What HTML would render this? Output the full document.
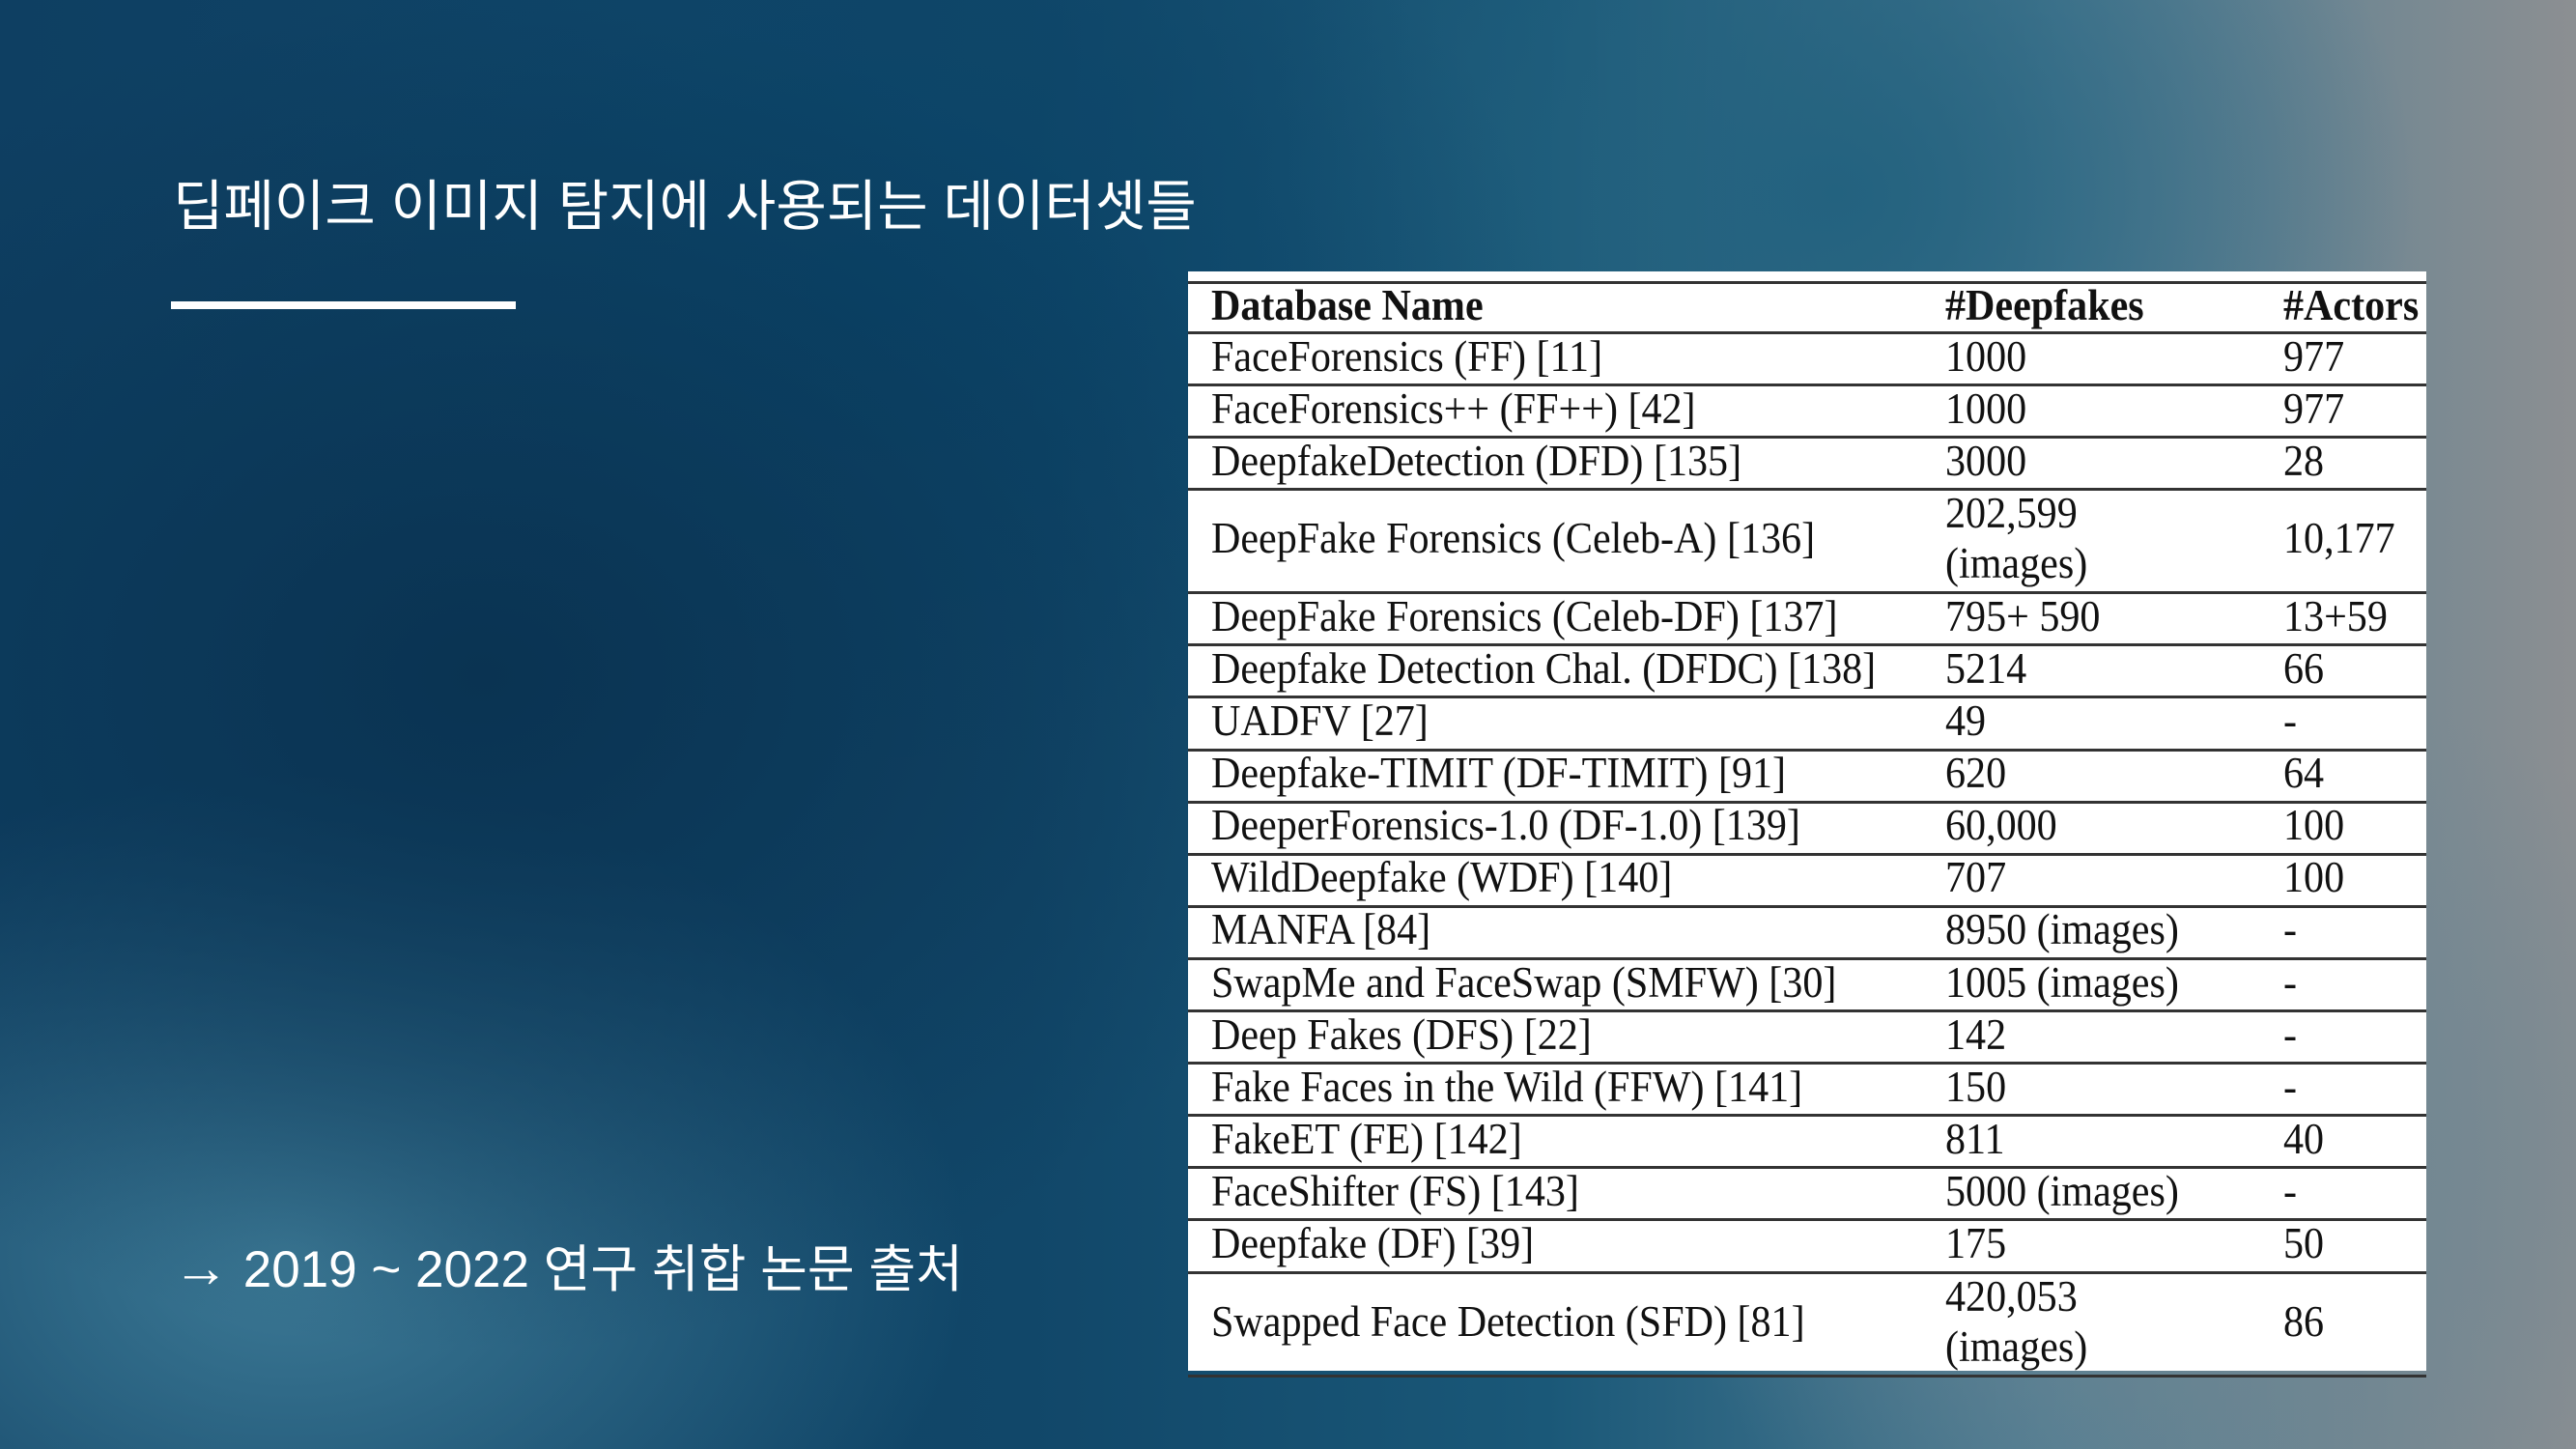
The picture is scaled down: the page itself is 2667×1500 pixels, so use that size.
<!DOCTYPE html>
<html><head><meta charset="utf-8">
<style>
html,body{margin:0;padding:0}
body{width:2667px;height:1500px;position:relative;overflow:hidden;
background:
radial-gradient(ellipse 900px 700px at 500px 700px,#0a3352 0%,rgba(10,51,82,0) 100%),
radial-gradient(ellipse 700px 500px at 900px 300px,#0a4468 0%,rgba(10,68,104,0) 100%),
radial-gradient(ellipse 600px 500px at 1900px 200px,#23627f 0%,rgba(35,98,127,0) 100%),
radial-gradient(ellipse 700px 500px at 300px 1300px,#3d7a96 0%,rgba(61,122,150,0) 100%),
radial-gradient(ellipse 600px 500px at 2300px 1200px,#6f8692 0%,rgba(111,134,146,0) 100%),
linear-gradient(90deg,#0e3f62 0%,#114769 40%,#1a5878 60%,#4f7d93 80%,#8c8f92 100%);}
.t{position:absolute;color:#fff;font-family:"Liberation Sans","Noto Sans CJK KR",sans-serif;white-space:nowrap}
#tbl{position:absolute;left:1230px;top:281px;width:1282px;height:1138px;background:#fff}
.row{position:absolute;left:0;width:1282px;border-bottom:3px solid #333;box-sizing:border-box;font-family:"Liberation Serif",serif;font-size:45px;color:#111}
.c{position:absolute;white-space:nowrap;transform:scaleX(0.935);transform-origin:left center;line-height:52px}
</style></head><body>
<div class="t" style="left:179px;top:168px;font-size:57px">딥페이크 이미지 탐지에 사용되는 데이터셋들</div>
<div style="position:absolute;left:177px;top:312px;width:357px;height:8px;background:#fff"></div>
<div class="t" style="left:179px;top:1272px;font-size:53px"><span style="font-size:58px">→</span> 2019 ~ 2022 연구 취합 논문 출처</div>
<div id="tbl">
<div style="position:absolute;left:0;top:10px;width:1282px;height:3px;background:#333"></div>
</div>
<script>
const names=["FaceForensics (FF) [11]","FaceForensics++ (FF++) [42]","DeepfakeDetection (DFD) [135]","DeepFake Forensics (Celeb-A) [136]","DeepFake Forensics (Celeb-DF) [137]","Deepfake Detection Chal. (DFDC) [138]","UADFV [27]","Deepfake-TIMIT (DF-TIMIT) [91]","DeeperForensics-1.0 (DF-1.0) [139]","WildDeepfake (WDF) [140]","MANFA [84]","SwapMe and FaceSwap (SMFW) [30]","Deep Fakes (DFS) [22]","Fake Faces in the Wild (FFW) [141]","FakeET (FE) [142]","FaceShifter (FS) [143]","Deepfake (DF) [39]","Swapped Face Detection (SFD) [81]"];
const fakes=["1000","1000","3000","202,599<br>(images)","795+ 590","5214","49","620","60,000","707","8950 (images)","1005 (images)","142","150","811","5000 (images)","175","420,053<br>(images)"];
const actors=["977","977","28","10,177","13+59","66","-","64","100","100","-","-","-","-","40","-","50","86"];
const tbl=document.getElementById('tbl');
function mk(top,h,cells,bold,name){
 const r=document.createElement('div');r.className='row';
 
 
 r.style.top=top+'px';r.style.height=h+'px';
 if(bold)r.style.fontWeight='bold';
 const xs=[24,784,1134];
 cells.forEach((c,i)=>{const d=document.createElement('div');d.className='c';
  
  
  d.innerHTML=c;d.style.left=xs[i]+'px';
  const lines=c.split('<br>').length;d.style.top=((h-3-lines*52)/2-3)+'px';r.appendChild(d);});
 tbl.appendChild(r);
}
mk(13,52,["Database Name","#Deepfakes","#Actors"],true,'table-header');
let y=65;
names.forEach((n,i)=>{const h=fakes[i].includes('<br>')?107:54.1;
 mk(y,h,[n,fakes[i],actors[i]],false,'table-row');y+=h;});
</script>
</body></html>
